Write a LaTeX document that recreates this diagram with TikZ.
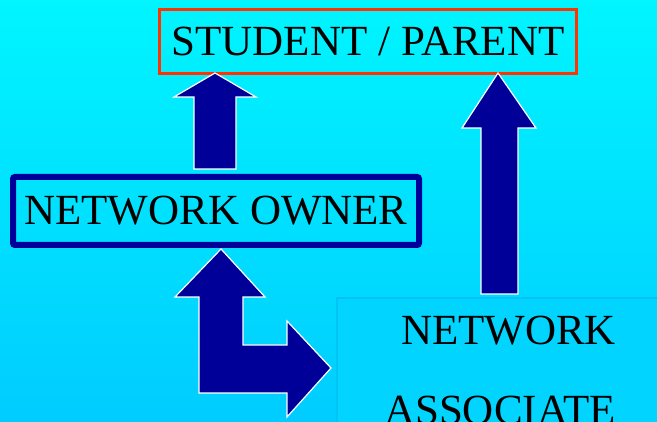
\documentclass[tikz,border=0pt]{standalone}
\usepackage{fontspec}
\setmainfont{Liberation Serif}
\definecolor{bgtop}{RGB}{0,245,255}
\definecolor{bgbot}{RGB}{0,204,255}
\definecolor{navy}{RGB}{0,0,153}
\definecolor{redline}{RGB}{255,51,0}
\definecolor{assocfill}{RGB}{0,212,255}
\definecolor{assocline}{RGB}{0,196,245}
\begin{document}
\begin{tikzpicture}[x=1pt,y=-1pt,
  lbl/.style={font=\fontsize{43}{50}\selectfont, text=black, inner sep=0pt, text height=28pt, text depth=0pt},
  blockarrow/.style={fill=navy, draw=white, line width=1.2pt, line join=miter}]
\shade[top color=bgtop,bottom color=bgbot] (0,0) rectangle (657,422);
\useasboundingbox (0,0) rectangle (657,422);
% boxes
\node[lbl, draw=redline, line width=3pt, minimum width=417pt, minimum height=64pt] (sp) at (368,41.5) {STUDENT / PARENT};
\node[lbl, draw=navy, line width=6pt, rounded corners=2pt, minimum width=406pt, minimum height=68pt] (owner) at (216,211) {NETWORK OWNER};
\node[draw=assocline, fill=assocfill, line width=2pt, anchor=north west, minimum width=340pt, minimum height=140pt, inner sep=0pt] (assoc) at (336,297) {};
\node[lbl, anchor=base] (assoc1) at (508.5,345) {NETWORK};
\node[lbl, anchor=base] (assoc2) at (500,424.5) {ASSOCIATE};
% block arrows
\draw[blockarrow] (215,73) -- (256,97) -- (236,97) -- (236,169) -- (194,169) -- (194,97) -- (174,97) -- cycle;
\draw[blockarrow] (498,73) -- (536,128) -- (518,128) -- (518,294) -- (481,294) -- (481,128) -- (462,128) -- cycle;
\draw[blockarrow] (221,249) -- (265,297) -- (243,297) -- (243,345) -- (287,345) -- (287,321) -- (331,368) -- (287,417) -- (287,393) -- (199,393) -- (199,297) -- (175,297) -- cycle;
\end{tikzpicture}
\end{document}
